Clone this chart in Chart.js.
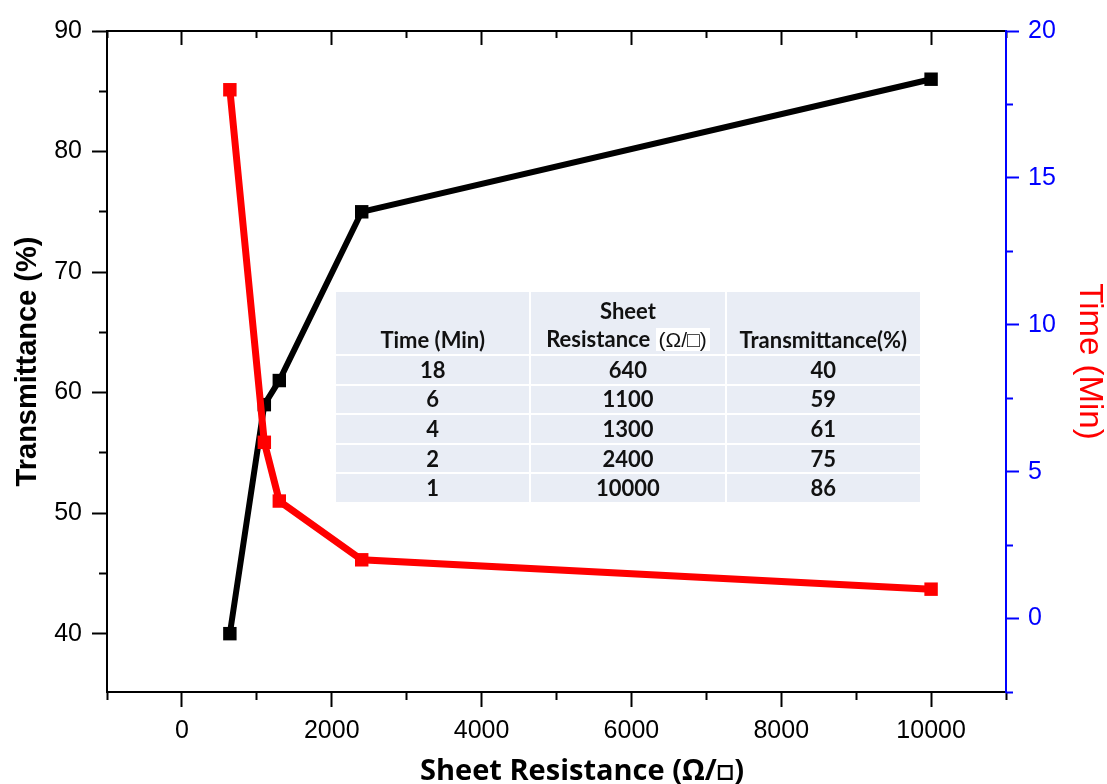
<!DOCTYPE html>
<html>
<head>
<meta charset="utf-8">
<script src="https://cdn.jsdelivr.net/npm/chart.js@4.4.0/dist/chart.umd.min.js"></script>
<style>
  html, body { margin: 0; padding: 0; background: #fff; }
  #wrap { position: relative; width: 1107px; height: 784px; }
  #c { position: absolute; left: 0; top: 0; }
  #tbl {
    position: absolute; left: 334px; top: 290px; width: 588px;
    border-collapse: separate; border-spacing: 2px; font-family: Lato, "Open Sans", sans-serif;
    font-weight: bold; font-size: 22px; color: #111; table-layout: fixed;
  }
  #tbl td { background: #e9edf5; text-align: center; padding: 0; height: 27.6px; line-height: 22px; }
  #tbl tr.h td { height: 62px; vertical-align: bottom; padding-bottom: 0; box-sizing: border-box; line-height: 28px; }
  #tbl .u { background: #fff; padding: 0 3px; font-weight: normal; font-family: "Liberation Sans", sans-serif; font-size: 21px; }
  #xtitle {
    position: absolute; left: 0; width: 1164px; top: 752px; text-align: center;
    font-family: "Open Sans", Lato, sans-serif; font-weight: bold; font-size: 29px; line-height: 34px; color: #000;
  }
</style>
</head>
<body>
<div id="wrap">
  <canvas id="c" width="1107" height="784"></canvas>
  <table id="tbl"></table>
  <div id="xtitle"></div>
</div>
<script>
// ---- data ----
const sheetResistance = [640, 1100, 1300, 2400, 10000];
const transmittance = [40, 59, 61, 75, 86];
const timeMin = [18, 6, 4, 2, 1];

const xMajorTicks = [0, 2000, 4000, 6000, 8000, 10000];
const xMinorTicks = [-1000, 1000, 3000, 5000, 7000, 9000, 11000];
const yLeftMajorTicks = [40, 50, 60, 70, 80, 90];
const yLeftMinorTicks = [45, 55, 65, 75, 85];
const yRightMajorTicks = [0, 5, 10, 15, 20];
const yRightMinorTicks = [-2.5, 2.5, 7.5, 12.5, 17.5];

const xTitle = 'Sheet Resistance (Ω/□)';
const yTitle = 'Transmittance (%)';
const y2Title = 'Time (Min)';
const tableHeaders = ['Time (Min)', 'Sheet<br>Resistance <span class="u">(Ω/□)</span>', 'Transmittance(%)'];

// ---- table & x title ----
const tbl = document.getElementById('tbl');
let html = '<tr class="h">' + tableHeaders.map(h => '<td>' + h + '</td>').join('') + '</tr>';
for (let i = 0; i < timeMin.length; i++) {
  html += '<tr><td>' + timeMin[i] + '</td><td>' + sheetResistance[i] + '</td><td>' + transmittance[i] + '</td></tr>';
}
tbl.innerHTML = html;
document.getElementById('xtitle').textContent = xTitle;

// ---- chart ----
const tickFont = { family: '"Liberation Sans", Arial, sans-serif', size: 25 };
const setTicks = arr => (s => { s.ticks = arr.map(v => ({ value: v })); });
const zeroH = s => { s.height = 0; };
const zeroW = s => { s.width = 0; };
const plain = v => String(v);

function minorAxis(axis, position, arr, len, color, min, max, zeroFn) {
  return {
    type: 'linear', axis: axis, position: position, min: min, max: max, weight: 0,
    afterBuildTicks: setTicks(arr), afterFit: zeroFn,
    border: { display: false },
    grid: { display: true, drawOnChartArea: false, drawTicks: true, tickLength: len, tickColor: color, tickWidth: 2 },
    ticks: { display: false }
  };
}

new Chart(document.getElementById('c'), {
  type: 'line',
  data: {
    datasets: [
      {
        label: y2Title,
        data: sheetResistance.map((r, i) => ({ x: r, y: timeMin[i] })),
        yAxisID: 'y2', xAxisID: 'x',
        borderColor: '#ff0000', backgroundColor: '#ff0000',
        borderWidth: 7, pointStyle: 'rect', pointRadius: 9.5,
        pointBorderWidth: 0, tension: 0, order: 0
      },
      {
        label: yTitle,
        data: sheetResistance.map((r, i) => ({ x: r, y: transmittance[i] })),
        yAxisID: 'y', xAxisID: 'x',
        borderColor: '#000000', backgroundColor: '#000000',
        borderWidth: 6, pointStyle: 'rect', pointRadius: 9.5,
        pointBorderWidth: 0, tension: 0, order: 1
      }
    ]
  },
  options: {
    responsive: false, animation: false,
    layout: { padding: { top: 31, left: 0, right: 0, bottom: 0 } },
    plugins: { legend: { display: false }, tooltip: { enabled: false } },
    scales: {
      x: {
        type: 'linear', position: 'bottom', min: -1000, max: 11000, weight: 1,
        afterBuildTicks: setTicks(xMajorTicks),
        afterFit: s => { s.height = 92; },
        border: { color: '#000', width: 2 },
        grid: { drawOnChartArea: false, tickLength: 15, tickColor: '#000', tickWidth: 2 },
        ticks: { font: tickFont, color: '#000', padding: 9, maxRotation: 0, autoSkip: false, callback: plain }
      },
      xMinor: minorAxis('x', 'bottom', xMinorTicks, 8, '#000', -1000, 11000, zeroH),
      xTop: {
        type: 'linear', axis: 'x', position: 'top', min: -1000, max: 11000, weight: 1,
        afterBuildTicks: setTicks(xMajorTicks), afterFit: zeroH,
        border: { display: true, color: '#000', width: 2 },
        grid: { display: true, drawOnChartArea: false, drawTicks: true, tickLength: -14, tickColor: '#000', tickWidth: 2 },
        ticks: { display: false }
      },
      xTopMinor: minorAxis('x', 'top', xMinorTicks, -7, '#000', -1000, 11000, zeroH),
      y: {
        type: 'linear', position: 'left', min: 35.16, max: 90, weight: 1,
        afterBuildTicks: setTicks(yLeftMajorTicks),
        afterFit: s => { s.width = 107; },
        border: { color: '#000', width: 2 },
        grid: { drawOnChartArea: false, tickLength: 15, tickColor: '#000', tickWidth: 2 },
        ticks: { font: tickFont, color: '#000', padding: 10, callback: plain },
        title: { display: true, text: yTitle, color: '#000',
                 font: { family: '"Liberation Sans", Arial, sans-serif', size: 29, weight: 'bold', lineHeight: 1 },
                 padding: { top: 13, bottom: 0 } }
      },
      yMinor: minorAxis('y', 'left', yLeftMinorTicks, 8, '#000', 35.16, 90, zeroW),
      y2: {
        type: 'linear', position: 'right', min: -2.5, max: 20, weight: 1,
        afterBuildTicks: setTicks(yRightMajorTicks),
        afterFit: s => { s.width = 101; },
        border: { color: '#0000ff', width: 2 },
        grid: { drawOnChartArea: false, tickLength: 13, tickColor: '#0000ff', tickWidth: 2 },
        ticks: { font: tickFont, color: '#0000ff', padding: 9, callback: plain },
        title: { display: true, text: y2Title, color: '#ff0000',
                 font: { family: '"Liberation Sans", Arial, sans-serif', size: 33, weight: 'normal', lineHeight: 1 },
                 padding: { top: 1, bottom: 0 } }
      },
      y2Minor: minorAxis('y', 'right', yRightMinorTicks, 7, '#0000ff', -2.5, 20, zeroW)
    }
  }
});
</script>
</body>
</html>
